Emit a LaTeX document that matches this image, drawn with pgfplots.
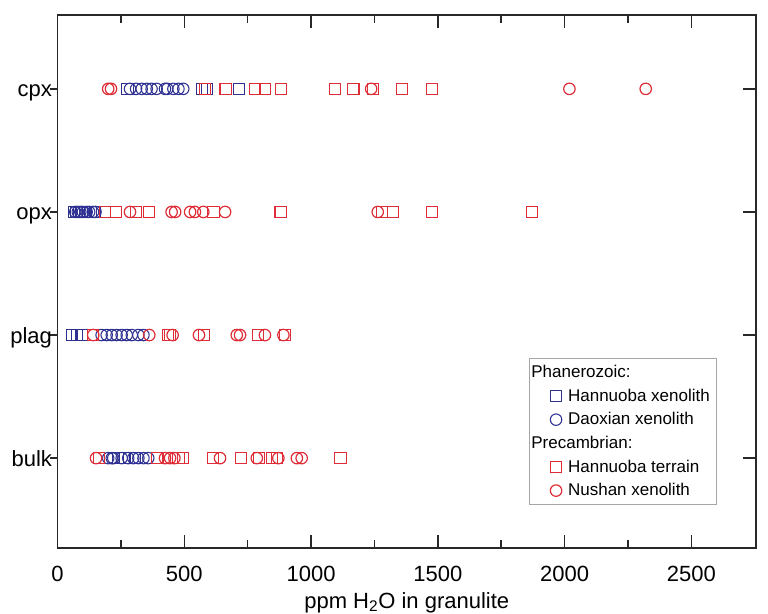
\documentclass[border=0pt]{standalone}
\usepackage{fontspec}
\setmainfont{Liberation Sans}
\usepackage{pgfplots}
\pgfplotsset{compat=1.18}
\definecolor{myblue}{RGB}{46,49,146}
\definecolor{myred}{RGB}{222,45,55}
\definecolor{axcol}{RGB}{40,40,40}

\pgfplotstableread{
x y
276 3
569 3
590 3
717 3
65 2
75 2
85 2
95 2
110 2
130 2
148 2
56 1
76 1
95 1
240 0
266 0
306 0
}\bluesq

\pgfplotstableread{
x y
286 3
310 3
332 3
352 3
371 3
391 3
424 3
433 3
457 3
477 3
496 3
70 2
80 2
90 2
100 2
115 2
125 2
140 2
150 2
174 1
194 1
214 1
233 1
253 1
273 1
293 1
319 1
339 1
200 0
214 0
220 0
253 0
279 0
299 0
319 0
339 0
358 0
}\bluecirc

\pgfplotstableread{
x y
582 3
663 3
779 3
819 3
882 3
1095 3
1167 3
1243 3
1360 3
1478 3
187 2
231 2
310 2
362 2
615 2
880 2
1281 2
1322 2
1478 2
1872 2
139 1
437 1
444 1
578 1
792 1
897 1
165 0
394 0
477 0
494 0
612 0
723 0
796 0
845 0
865 0
1116 0
}\redsq

\pgfplotstableread{
x y
200 3
211 3
1237 3
2019 3
2320 3
286 2
450 2
464 2
523 2
542 2
575 2
661 2
1263 2
141 1
362 1
454 1
558 1
707 1
720 1
818 1
891 1
152 0
424 0
444 0
461 0
641 0
786 0
871 0
944 0
963 0
}\redcirc

\pgfplotsset{myimg/.style={legend image code/.code={\path[draw=none,fill=none] (0pt,0pt) -- (24pt,0pt); \draw[##1] plot[only marks] coordinates {(17pt,0pt)};}}}

\begin{document}
\begin{tikzpicture}
\begin{axis}[name=ax, scale only axis, width=523.9pt, height=399.75pt,
  xmin=0, xmax=2755, ymin=-0.73, ymax=3.6,
  xtick={0,500,...,2500}, minor x tick num=1,
  tick align=inside, major tick length=10pt, minor tick length=6pt,
  ytick={0,1,2,3}, ytick pos=right, yticklabels={},
  axis line style={line width=1.3pt, axcol},
  tick style={line width=1.1pt, axcol},
  xlabel={ppm H\textsubscript{2}O in granulite},
  xlabel style={font=\fontsize{16.5}{18}\selectfont, yshift=-1pt},
  /pgf/number format/assume math mode=true,
  scaled ticks=false,
  x tick label style={font=\fontsize{16.5}{18}\selectfont, /pgf/number format/1000 sep={}, yshift=-10pt},
  legend style={at={(0.944,0.081)}, anchor=south east, draw=gray!70, line width=0.6pt,
    font=\fontsize{12.75}{15}\selectfont, row sep=3pt, inner xsep=3pt, inner ysep=3pt},
  legend cell align=left,
]
\addlegendimage{empty legend}
\addlegendentry{\hspace*{-27.5pt}Phanerozoic:}
\addplot[only marks, mark=square, mark size=4.2pt, color=myblue, mark options={line width=0.8pt}, myimg] table[x=x,y=y] {\bluesq};
\addlegendentry{Hannuoba xenolith}
\addplot[only marks, mark=o, mark size=4.3pt, color=myblue, mark options={line width=0.8pt}, myimg] table[x=x,y=y] {\bluecirc};
\addlegendentry{Daoxian xenolith}
\addlegendimage{empty legend}
\addlegendentry{\hspace*{-27.5pt}Precambrian:}
\addplot[only marks, mark=square, mark size=4.2pt, color=myred, mark options={line width=0.8pt}, myimg] table[x=x,y=y] {\redsq};
\addlegendentry{Hannuoba terrain}
\addplot[only marks, mark=o, mark size=4.3pt, color=myred, mark options={line width=0.9pt}, myimg] table[x=x,y=y] {\redcirc};
\addlegendentry{Nushan xenolith}
\end{axis}
\begin{axis}[scale only axis, width=523.9pt, height=399.75pt,
  xmin=0, xmax=2755, ymin=-0.73, ymax=3.6,
  hide x axis, axis y line*=left, tick align=outside,
  ytick={0,1,2,3}, yticklabels={bulk,plag,opx,cpx},
  major tick length=5.5pt,
  axis line style={line width=1.3pt, axcol},
  tick style={line width=1.1pt, axcol},
  y tick label style={font=\fontsize{16.5}{18}\selectfont, inner xsep=0.5pt, xshift=2pt, text height=12pt, text depth=0pt},
]
\end{axis}
\pgfresetboundingbox
\path[use as bounding box] ([shift={(-43.125pt,-49.5pt)}]ax.south west) rectangle ++(576pt,460.5pt);
\end{tikzpicture}
\end{document}
